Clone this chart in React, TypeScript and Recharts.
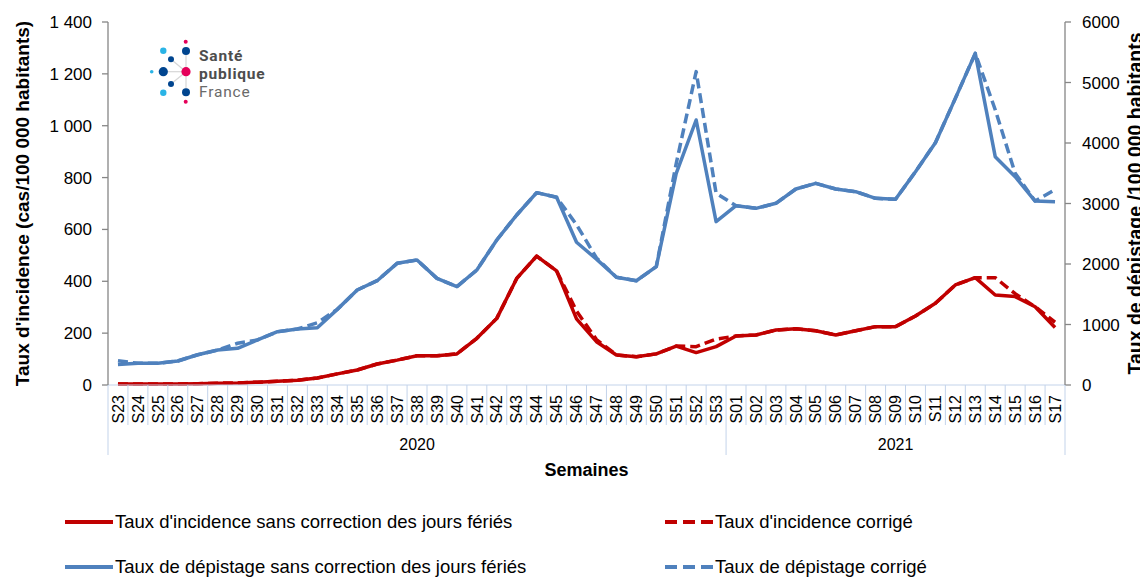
import React from 'react';
import { LineChart, Line, XAxis, YAxis, Legend, Label } from 'recharts';

// ---------- DATA ----------
const weeks2020 = ['S23','S24','S25','S26','S27','S28','S29','S30','S31','S32','S33','S34','S35','S36','S37','S38','S39','S40','S41','S42','S43','S44','S45','S46','S47','S48','S49','S50','S51','S52','S53'];
const weeks2021 = ['S01','S02','S03','S04','S05','S06','S07','S08','S09','S10','S11','S12','S13','S14','S15','S16','S17'];
const years = ['2020', '2021'];
const weeks = [...weeks2020, ...weeks2021];

const incidence = [4,4,4,4,5,7,8,11,14,18,27,43,58,81,96,113,113,120,180,257,411,497,440,255,167,116,109,120,150,125,148,
  189,193,212,217,209,193,209,225,225,266,315,386,414,347,341,302,222];
const incidenceCorr = [4,4,4,4,5,7,8,11,14,18,27,43,58,81,96,113,113,120,180,257,411,497,440,285,175,116,109,120,150,148,177,
  189,193,212,217,209,193,209,225,225,266,315,386,414,414,352,302,242];
const depistage = [340,358,358,397,500,578,606,744,881,925,947,1250,1570,1724,2011,2066,1763,1625,1901,2397,2810,3179,3102,2360,2080,1780,1724,1956,3499,4380,2700,
  2964,2920,3003,3240,3333,3240,3196,3085,3069,3526,4005,4738,5482,3774,3443,3041,3030];
const depistageCorr = [400,358,358,397,500,578,690,744,881,925,1030,1250,1570,1724,2011,2066,1763,1625,1901,2397,2810,3179,3102,2650,2100,1780,1724,1956,3660,5180,3170,
  2964,2920,3003,3240,3333,3240,3196,3085,3069,3526,4005,4738,5482,4550,3500,3041,3230];

const leftTicks = [0, 200, 400, 600, 800, 1000, 1200, 1400];
const rightTicks = [0, 1000, 2000, 3000, 4000, 5000, 6000];

const yearGroups = [
  { year: years[0], count: weeks2020.length },
  { year: years[1], count: weeks2021.length },
];

const data = weeks.map((w, i) => ({
  week: w,
  inc: incidence[i],
  incC: incidenceCorr[i],
  dep: depistage[i],
  depC: depistageCorr[i],
}));

// ---------- LAYOUT / STYLE ----------
const W = 1140;
const H = 571;
const TOP = 14;
const LEFT_W = 100;
const RIGHT_W = 83;
const LEGEND_H = 81;
const XAXIS_H = 113;
const BW = (W - LEFT_W - RIGHT_W) / weeks.length;
const FONT = '"Liberation Sans", Arial, sans-serif';
const RED = '#C00000';
const BLUE = '#4F81BD';
const AXIS = '#868686';
const SEP = '#C3D3EA';

const fmt = (v: number) => String(v).replace(/\B(?=(\d{3})+(?!\d))/g, ' ');

const groupStart: Record<number, { year: string; count: number }> = {};
{
  let acc = 0;
  yearGroups.forEach((g) => { groupStart[acc] = g; acc += g.count; });
}

const WeekTick = (props: any) => {
  const { x, y, index, payload } = props;
  const i = typeof index === 'number' ? index : payload.index;
  const half = BW / 2;
  const g = groupStart[i];
  const isLast = i === weeks.length - 1;
  return (
    <g>
      <line x1={x - half} y1={y} x2={x - half} y2={y + (g ? 70 : 40)} stroke={SEP} strokeWidth={1} />
      {isLast && <line x1={x + half} y1={y} x2={x + half} y2={y + 70} stroke={SEP} strokeWidth={1} />}
      <text
        x={x + 5.7}
        y={y + 10}
        transform={`rotate(-90 ${x + 5.7} ${y + 10})`}
        textAnchor="end"
        fontSize={16}
        fill="#000"
        fontFamily={FONT}
      >
        {payload.value}
      </text>
      {g && (
        <text x={x - half + (g.count * BW) / 2} y={y + 65} textAnchor="middle" fontSize={16} fill="#000" fontFamily={FONT}>
          {g.year}
        </text>
      )}
    </g>
  );
};

const SemainesLabel = (props: any) => {
  const vb = props.viewBox || {};
  const cx = vb.x + vb.width / 2;
  return (
    <text x={cx} y={vb.y + 91} textAnchor="middle" fontSize={18} fontWeight="bold" fill="#000" fontFamily={FONT}>
      Semaines
    </text>
  );
};

const LeftTitle = (props: any) => {
  const vb = props.viewBox || {};
  const cx = vb.x + 14;
  const cy = vb.y + vb.height / 2;
  return (
    <text x={cx} y={cy} transform={`rotate(-90 ${cx} ${cy})`} textAnchor="middle" dominantBaseline="central" fontSize={19} fontWeight="bold" fill="#000" fontFamily={FONT}>
      Taux d'incidence (cas/100 000 habitants)
    </text>
  );
};

const RightTitle = (props: any) => {
  const vb = props.viewBox || {};
  const cx = vb.x + 70;
  const cy = vb.y + vb.height / 2;
  return (
    <text x={cx} y={cy} transform={`rotate(-90 ${cx} ${cy})`} textAnchor="middle" dominantBaseline="central" fontSize={19.5} fontWeight="bold" fill="#000" fontFamily={FONT}>
      Taux de dépistage /100 000 habitants
    </text>
  );
};

const legendItems = [
  { label: "Taux d'incidence sans correction des jours fériés", color: RED, dashed: false, left: 57, top: 24 },
  { label: "Taux d'incidence corrigé", color: RED, dashed: true, left: 657, top: 24 },
  { label: 'Taux de dépistage sans correction des jours fériés', color: BLUE, dashed: false, left: 57, top: 69 },
  { label: 'Taux de dépistage corrigé', color: BLUE, dashed: true, left: 657, top: 69 },
];

const LegendContent = () => (
  <div style={{ position: 'relative', width: W, height: LEGEND_H, fontFamily: FONT }}>
    {legendItems.map((it) => (
      <div key={it.label} style={{ position: 'absolute', left: it.left, top: it.top - 11, height: 22, display: 'flex', alignItems: 'center', whiteSpace: 'nowrap' }}>
        <svg width={48} height={8} style={{ display: 'block' }}>
          <line x1={0} y1={4} x2={48} y2={4} stroke={it.color} strokeWidth={4} strokeDasharray={it.dashed ? '12 6' : undefined} />
        </svg>
        <span style={{ marginLeft: 2, fontSize: 18.5, color: '#000', lineHeight: '22px' }}>{it.label}</span>
      </div>
    ))}
  </div>
);

const Logo = () => (
  <svg width={300} height={110} style={{ position: 'absolute', left: 0, top: 0, pointerEvents: 'none' }}>
    <g stroke="#D6D6D6" strokeWidth={1.2}>
      <line x1={178} y1={43} x2={178} y2={84} />
      <line x1={155} y1={63.7} x2={178} y2={63.7} />
      <line x1={163} y1={51.3} x2={178} y2={63.7} />
      <line x1={163} y1={76} x2={178} y2={63.7} />
    </g>
    <circle cx={177.7} cy={33.7} r={2} fill="#E5005A" />
    <circle cx={155.3} cy={42.7} r={3.2} fill="#2AB4E6" />
    <circle cx={178} cy={43} r={4} fill="#00458F" />
    <circle cx={163} cy={51.3} r={3} fill="#00458F" />
    <circle cx={143.7} cy={63.7} r={1.8} fill="#2AB4E6" />
    <circle cx={155.3} cy={63.7} r={4.6} fill="#00458F" />
    <circle cx={178} cy={63.7} r={4.6} fill="#E5005A" />
    <circle cx={163} cy={76} r={3} fill="#00458F" />
    <circle cx={155.3} cy={84.7} r={3.2} fill="#2AB4E6" />
    <circle cx={178} cy={84.3} r={4} fill="#00458F" />
    <circle cx={177.7} cy={93.7} r={2} fill="#E5005A" />
    <text x={191} y={53} fontSize={15.5} letterSpacing={0.8} fontWeight="bold" fill="#4D4D4D" fontFamily="Roboto, sans-serif">Santé</text>
    <text x={191} y={71} fontSize={15.5} letterSpacing={0.8} fontWeight="bold" fill="#4D4D4D" fontFamily="Roboto, sans-serif">publique</text>
    <text x={191} y={89} fontSize={15.5} letterSpacing={0.8} fill="#6A6A6A" fontFamily="Roboto, sans-serif">France</text>
  </svg>
);

export default function App() {
  return (
    <div style={{ position: 'relative', width: W, height: H, fontFamily: FONT }}>
      <LineChart width={W} height={H} data={data} margin={{ top: TOP, right: 0, bottom: 0, left: 0 }}>
        <XAxis
          dataKey="week"
          scale="band"
          interval={0}
          height={XAXIS_H}
          tickLine={false}
          tickSize={0}
          tickMargin={0}
          axisLine={{ stroke: SEP, strokeWidth: 1 }}
          tick={(p: any) => <WeekTick {...p} />}
        >
          <Label content={SemainesLabel} />
        </XAxis>
        <YAxis
          yAxisId="left"
          orientation="left"
          width={LEFT_W}
          domain={[0, 1400]}
          ticks={leftTicks}
          interval={0}
          tickFormatter={fmt}
          axisLine={{ stroke: AXIS, strokeWidth: 1.3 }}
          tickLine={{ stroke: AXIS, strokeWidth: 1.3 }}
          tickSize={6}
          tickMargin={10}
          tick={{ fill: '#000', fontSize: 17, fontFamily: FONT }}
        >
          <Label content={LeftTitle} />
        </YAxis>
        <YAxis
          yAxisId="right"
          orientation="right"
          width={RIGHT_W}
          domain={[0, 6000]}
          ticks={rightTicks}
          interval={0}
          axisLine={{ stroke: AXIS, strokeWidth: 1.3 }}
          tickLine={{ stroke: AXIS, strokeWidth: 1.3 }}
          tickSize={6}
          tickMargin={11}
          tick={{ fill: '#000', fontSize: 17, fontFamily: FONT }}
        >
          <Label content={RightTitle} />
        </YAxis>
        <Legend verticalAlign="bottom" height={LEGEND_H} width={W} wrapperStyle={{ left: 0 }} content={() => <LegendContent />} />
        <Line yAxisId="right" type="linear" dataKey="dep" stroke={BLUE} strokeWidth={3.5} dot={false} isAnimationActive={false} strokeLinejoin="round" />
        <Line yAxisId="right" type="linear" dataKey="depC" stroke={BLUE} strokeWidth={3.5} strokeDasharray="10 5" dot={false} isAnimationActive={false} strokeLinejoin="round" />
        <Line yAxisId="left" type="linear" dataKey="inc" stroke={RED} strokeWidth={3.5} dot={false} isAnimationActive={false} strokeLinejoin="round" />
        <Line yAxisId="left" type="linear" dataKey="incC" stroke={RED} strokeWidth={3.5} strokeDasharray="10 5" dot={false} isAnimationActive={false} strokeLinejoin="round" />
      </LineChart>
      <Logo />
    </div>
  );
}
